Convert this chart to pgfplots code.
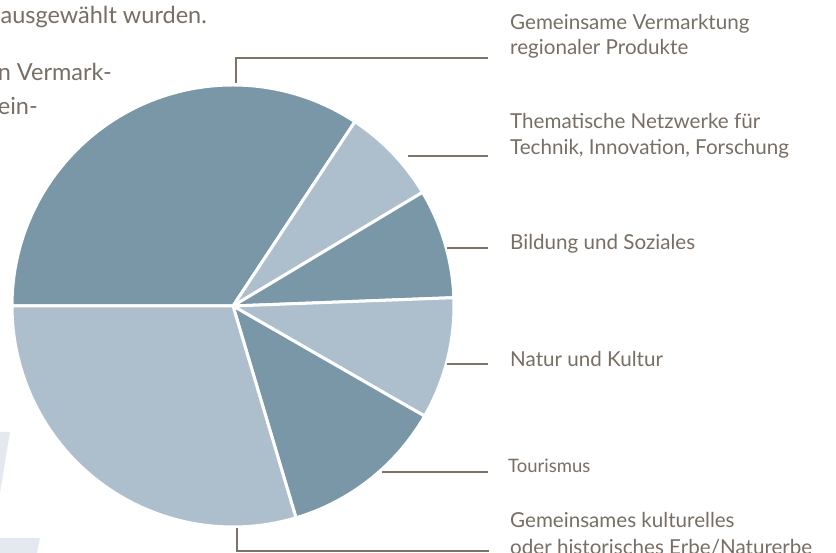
\documentclass[border=0pt]{standalone}
\usepackage{fontspec}
\setmainfont{Lato}
\usepackage{pgfplots}
\usepackage{pgfplotstable}
\pgfplotsset{compat=1.18}
\definecolor{dark}{HTML}{7A97A8}
\definecolor{light}{HTML}{ADBFCD}
\definecolor{leader}{HTML}{7D7468}
\definecolor{txt}{HTML}{776E64}
\definecolor{wm}{HTML}{E4E9EF}
\pgfplotstableread[col sep=comma]{
pct,shade
34.3,dark
7.1,light
8.0,dark
8.9,light
12.1,dark
29.6,light
}\piedata
\begin{document}
\begin{tikzpicture}
\useasboundingbox (0,0) rectangle (836bp,553bp);
\begin{axis}[at={(0,0)}, anchor=south west, width=836bp, height=553bp,
  scale only axis, xmin=0, xmax=836, ymin=0, ymax=553, hide axis, clip=false]
% watermark fragments
\fill[wm] (axis cs:0,121) -- (axis cs:10,121) -- (axis cs:0,60) -- cycle;
\fill[wm] (axis cs:0,15) -- (axis cs:40,15) -- (axis cs:37,0) -- (axis cs:0,0) -- cycle;
% pie
\def\angstart{180}
\pgfplotsforeachungrouped \i in {0,...,5}{
  \pgfplotstablegetelem{\i}{pct}\of\piedata \let\p\pgfplotsretval
  \pgfplotstablegetelem{\i}{shade}\of\piedata \let\s\pgfplotsretval
  \pgfmathsetmacro\angend{\angstart-3.6*\p}
  \edef\temp{\noexpand\fill[\s, draw=white, line width=3bp, line join=round] (axis cs:233,247) -- ++(\angstart:221bp) arc[start angle=\angstart, end angle=\angend, radius=221bp] -- cycle;}
  \temp
  \global\let\angstart\angend
}
% leader lines
\begin{scope}[leader, line width=2bp]
\draw (axis cs:236,470) -- (axis cs:236,495) -- (axis cs:488,495);
\draw (axis cs:408,397) -- (axis cs:488,397);
\draw (axis cs:447,305) -- (axis cs:488,305);
\draw (axis cs:447,189) -- (axis cs:488,189);
\draw (axis cs:382,81) -- (axis cs:488,81);
\draw (axis cs:237,25) -- (axis cs:237,1.5) -- (axis cs:489,1.5);
\end{scope}
% labels
\begin{scope}[txt, font=\fontsize{20.6bp}{24bp}\selectfont]
\node[anchor=base west, inner sep=0] at (axis cs:510,523) {Gemeinsame Vermarktung};
\node[anchor=base west, inner sep=0] at (axis cs:510,498) {regionaler Produkte};
\node[anchor=base west, inner sep=0] at (axis cs:510,424) {Thematische Netzwerke für};
\node[anchor=base west, inner sep=0] at (axis cs:510,398) {Technik, Innovation, Forschung};
\node[anchor=base west, inner sep=0] at (axis cs:510,303) {Bildung und Soziales};
\node[anchor=base west, inner sep=0] at (axis cs:510,186) {Natur und Kultur};
\node[anchor=base west, inner sep=0, font=\fontsize{18.5bp}{22bp}\selectfont] at (axis cs:508,80) {Tourismus};
\node[anchor=base west, inner sep=0] at (axis cs:510,26) {Gemeinsames kulturelles};
\node[anchor=base west, inner sep=0] at (axis cs:510,-1) {oder historisches Erbe/Naturerbe};
\node[anchor=base east, inner sep=0, font=\fontsize{23.5bp}{27bp}\selectfont] at (axis cs:207,529) {ausgewählt wurden.};
\node[anchor=base east, inner sep=0, font=\fontsize{23.5bp}{27bp}\selectfont] at (axis cs:112,472) {n Vermark-};
\node[anchor=base east, inner sep=0, font=\fontsize{23.5bp}{27bp}\selectfont] at (axis cs:38,438) {ein-};
\end{scope}
\end{axis}
\end{tikzpicture}
\end{document}
